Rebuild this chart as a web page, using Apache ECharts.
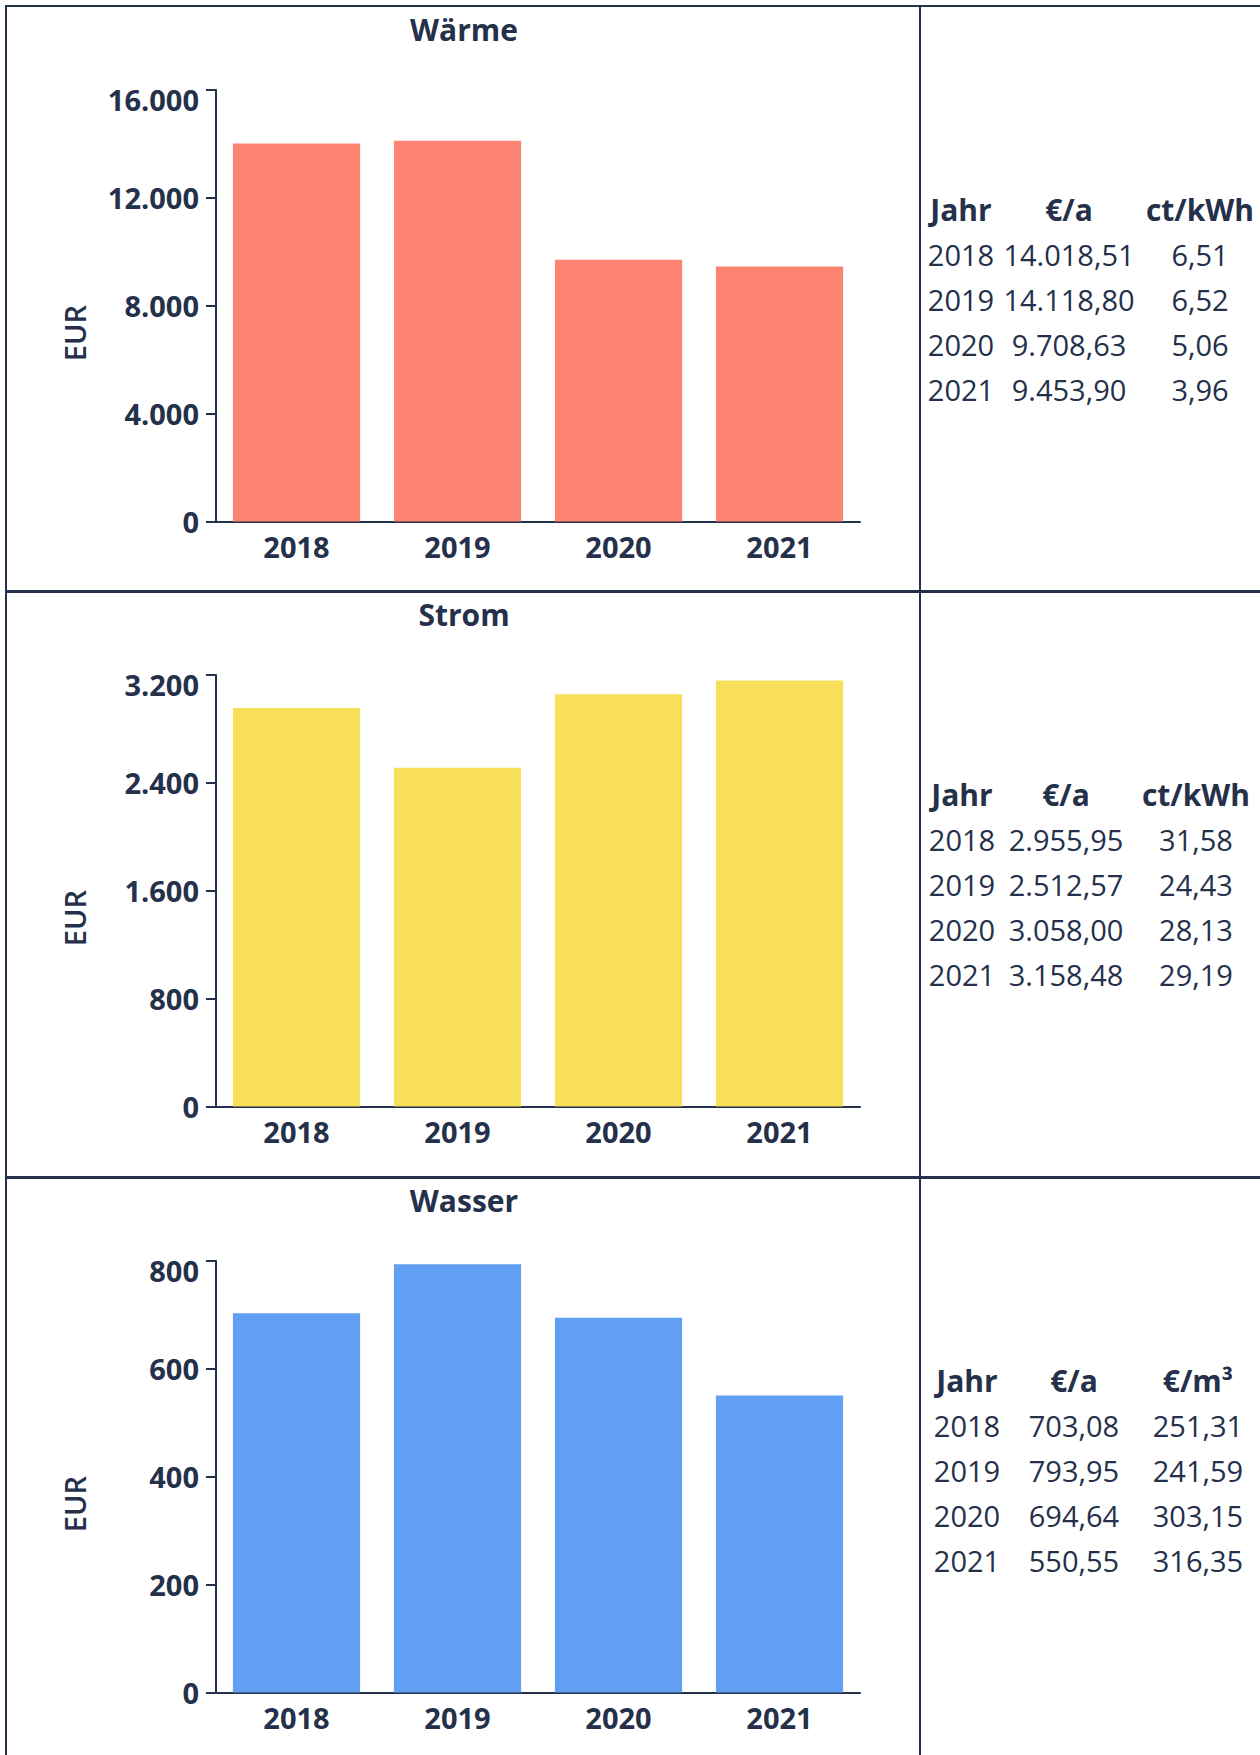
<!DOCTYPE html>
<html>
<head>
<meta charset="utf-8">
<title>Kosten</title>
<script src="https://cdn.jsdelivr.net/npm/echarts@6/dist/echarts.min.js"></script>
<style>
  html, body { margin: 0; padding: 0; background: #fff; }
  body { width: 1260px; height: 1755px; position: relative; overflow: hidden; font-family: "Open Sans", sans-serif; color: #25304a; }
  #chart { position: absolute; left: 0; top: 0; width: 918px; height: 1755px; }
  .line { position: absolute; background: #25304a; }
  .cell { position: absolute; transform: translate(-50%, -50%); white-space: nowrap; font-size: 29px; line-height: 45px; }
  .head { font-weight: bold; font-size: 30px; }
</style>
</head>
<body>
<div id="chart"></div>

<script>
// Werte aus der Vorlage
var years = ['2018', '2019', '2020', '2021'];

var waermeEur = [14018.51, 14118.80, 9708.63, 9453.90];
var waermeCt = [6.51, 6.52, 5.06, 3.96];

var stromEur = [2955.95, 2512.57, 3058.00, 3158.48];
var stromCt = [31.58, 24.43, 28.13, 29.19];

var wasserEur = [703.08, 793.95, 694.64, 550.55];
var wasserM3 = [251.31, 241.59, 303.15, 316.35];

var titles = ['Wärme', 'Strom', 'Wasser'];
var axisMax = [16000, 3200, 800];
var axisStep = [4000, 800, 200];
var barColors = ['#fd8473', '#f7df5a', '#619ff2'];
var tableHeads = [['Jahr', '€/a', 'ct/kWh'], ['Jahr', '€/a', 'ct/kWh'], ['Jahr', '€/a', '€/m³']];

var TXT = '#25304a';
var FONT = '"Open Sans", sans-serif';
var rowOffset = [0, 585, 1171];

// deutsche Zahlen: 14.018,51
function de(v, d) {
  var parts = v.toFixed(d).split('.');
  var i = parts[0].replace(/\B(?=(\d{3})+(?!\d))/g, '.');
  return parts.length > 1 ? i + ',' + parts[1] : i;
}

// Rahmen der Tabelle
function line(l, t, w, h) {
  var d = document.createElement('div');
  d.className = 'line';
  d.style.left = l + 'px'; d.style.top = t + 'px';
  d.style.width = w + 'px'; d.style.height = h + 'px';
  document.body.appendChild(d);
}
line(5, 5, 1260, 2);
line(5, 5, 2, 1755);
line(919, 5, 2, 1755);
line(5, 590, 1260, 3);
line(5, 1176, 1260, 3);

// Tabellen rechts
var colX = [[961, 1069, 1200], [962, 1066, 1196], [967, 1074, 1198]];
var eurCols = [waermeEur, stromEur, wasserEur];
var unitCols = [waermeCt, stromCt, wasserM3];
function cell(txt, x, y, head) {
  var d = document.createElement('div');
  d.className = head ? 'cell head' : 'cell';
  d.style.left = x + 'px'; d.style.top = y + 'px';
  d.textContent = txt;
  document.body.appendChild(d);
}
for (var t = 0; t < 3; t++) {
  var y0 = 209 + rowOffset[t];
  for (var c = 0; c < 3; c++) cell(tableHeads[t][c], colX[t][c], y0, true);
  for (var r = 0; r < years.length; r++) {
    var y = y0 + 45 * (r + 1);
    cell(years[r], colX[t][0], y);
    cell(de(eurCols[t][r], 2), colX[t][1], y);
    cell(de(unitCols[t][r], 2), colX[t][2], y);
  }
}

// Diagramme
var myChart = echarts.init(document.getElementById('chart'), null, { renderer: 'svg' });
var option = { animation: false, title: [], grid: [], xAxis: [], yAxis: [], series: [], graphic: [] };

function yLabel(max) {
  // oberstes Label sitzt etwas unter dem Strich
  return function (v) {
    return v === max ? '\n' + de(v, 0) : de(v, 0);
  };
}

for (var k = 0; k < 3; k++) {
  var off = rowOffset[k];
  option.title.push({
    text: titles[k], left: 464, top: off + 14, textAlign: 'center', padding: 0,
    textStyle: { fontSize: 30, fontWeight: 'bold', color: TXT, fontFamily: FONT }
  });
  option.grid.push({ left: 216, width: 644, top: off + 90, height: 431.5 });
  option.xAxis.push({
    type: 'category', gridIndex: k, data: years,
    axisLine: { lineStyle: { color: TXT, width: 2 } },
    axisTick: { alignWithLabel: true, length: 6, lineStyle: { color: TXT, width: 2 } },
    axisLabel: { margin: 10, fontSize: 29, fontWeight: 'bold', color: TXT, fontFamily: FONT }
  });
  option.yAxis.push({
    type: 'value', gridIndex: k, min: 0, max: axisMax[k], interval: axisStep[k],
    splitLine: { show: false },
    axisLine: { show: true, lineStyle: { color: TXT, width: 2 } },
    axisTick: { show: true, length: 10, lineStyle: { color: TXT, width: 2 } },
    axisLabel: {
      margin: 17, fontSize: 29, fontWeight: 'bold', color: TXT, fontFamily: FONT,
      lineHeight: 18,
      formatter: yLabel(axisMax[k])
    }
  });
  option.series.push({
    type: 'bar', xAxisIndex: k, yAxisIndex: k,
    data: eurCols[k], barCategoryGap: '21%',
    itemStyle: { color: barColors[k] }
  });
  option.graphic.push({
    type: 'text', x: 74, y: 333 + off, rotation: Math.PI / 2,
    style: { text: 'EUR', align: 'center', verticalAlign: 'middle', fontSize: 29, fontWeight: 600, fill: TXT, fontFamily: FONT }
  });
}

myChart.setOption(option);
</script>
</body>
</html>
